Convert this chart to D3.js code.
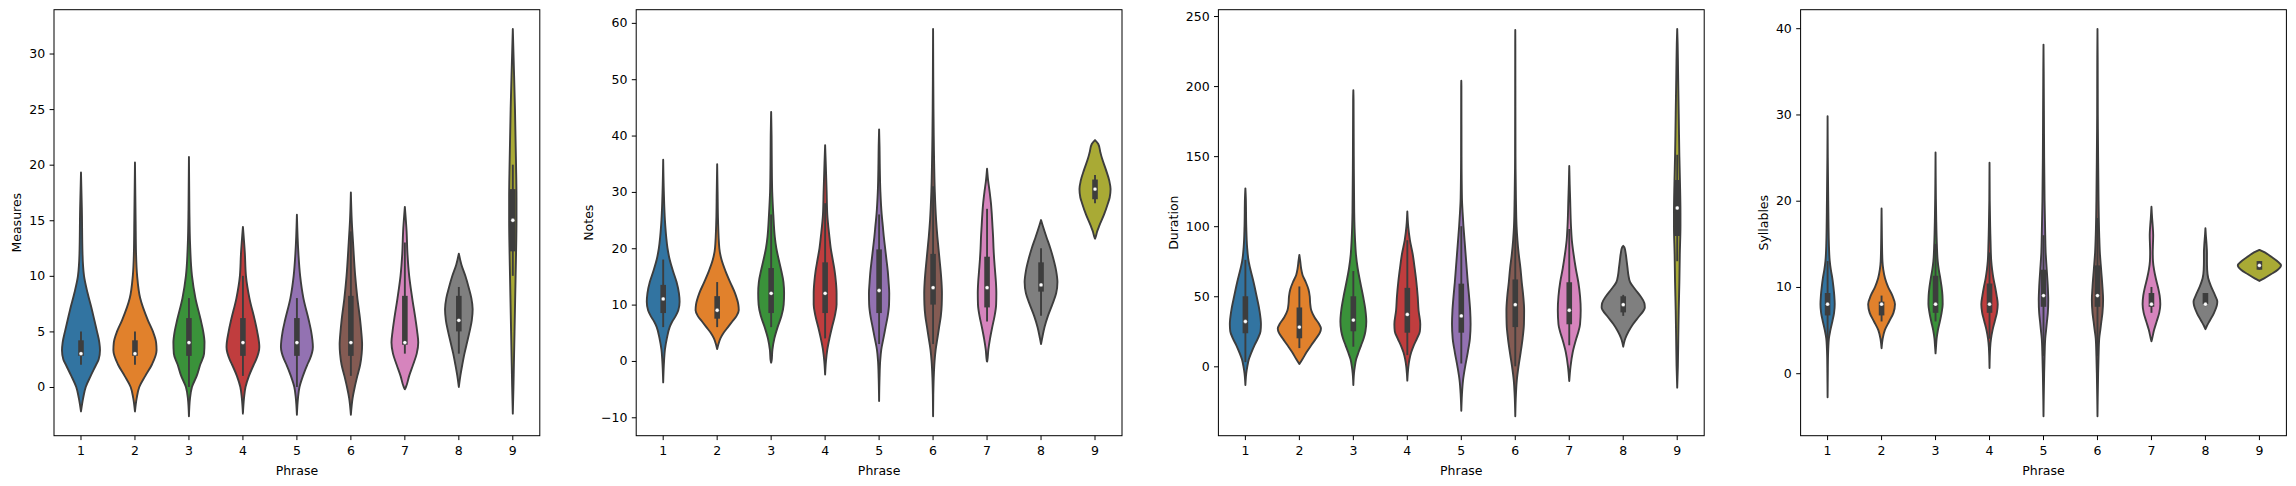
<!DOCTYPE html>
<html><head><meta charset="utf-8">
<script src="https://cdn.jsdelivr.net/npm/d3@7"></script>
<style>body{margin:0;background:#fff}svg{display:block}text{font-family:"DejaVu Sans";}</style>
</head><body>
<script>
const categories = ["1","2","3","4","5","6","7","8","9"];
const palette = ["#3274a1","#e1812c","#3a923a","#c03d3e","#9372b2","#845b53","#d684bd","#7f7f7f","#a9aa35"];
const yLabels = ["Measures","Notes","Duration","Syllables"];
const xLabel = "Phrase";
const measuresTicks = [0,5,10,15,20,25,30];
const notesTicks = [-10,0,10,20,30,40,50,60];
const durationTicks = [0,50,100,150,200,250];
const syllablesTicks = [0,10,20,30,40];

// violin profiles: [value, relative half-width (density)]
const measuresShape = [
 [[19.3,0],[16,0.04],[12,0.07],[10,0.14],[8.5,0.3],[7,0.5],[6,0.62],[5,0.74],[4,0.85],[3.3,0.88],[2.5,0.82],[2,0.7],[1,0.45],[0,0.22],[-1,0.1],[-2.2,0]],
 [[20.2,0],[15,0.03],[12,0.05],[10,0.1],[8,0.24],[6,0.6],[5,0.83],[4,0.98],[3.3,1.0],[2,0.78],[1,0.48],[0,0.2],[-1,0.08],[-2.2,0]],
 [[20.7,0],[16,0.02],[13,0.05],[10,0.14],[8,0.3],[6,0.55],[5,0.66],[4,0.72],[3,0.7],[2,0.52],[1,0.36],[0,0.14],[-1,0.05],[-2.64,0]],
 [[14.4,0],[12,0.09],[10,0.14],[8,0.3],[6,0.55],[5,0.66],[3.6,0.76],[2.5,0.62],[2,0.5],[1,0.28],[0,0.12],[-1,0.05],[-2.4,0]],
 [[15.5,0],[12,0.07],[10,0.15],[8,0.3],[6,0.55],[5,0.66],[3.6,0.74],[2.5,0.6],[2,0.48],[1,0.28],[0,0.12],[-1,0.05],[-2.5,0]],
 [[17.5,0],[15,0.04],[13,0.1],[10,0.2],[8,0.3],[6,0.43],[5,0.48],[3.8,0.52],[3,0.5],[2,0.43],[1,0.3],[0,0.18],[-1,0.08],[-2.5,0]],
 [[16.2,0],[14,0.08],[12,0.12],[10,0.2],[8,0.34],[6,0.5],[5,0.57],[4,0.62],[3,0.55],[2,0.38],[1,0.2],[0,0.05],[-0.2,0]],
 [[12,0],[11,0.12],[10,0.3],[9,0.45],[8,0.58],[7,0.64],[6,0.6],[5,0.5],[4,0.38],[3,0.26],[2,0.16],[1,0.07],[0,0]],
 [[32.2,0],[28,0.06],[25,0.1],[20,0.15],[17,0.17],[15,0.17],[12,0.15],[10,0.13],[5,0.08],[2,0.05],[0,0.03],[-2.4,0]]
];
const notesShape = [
 [[35.7,0],[30,0.03],[25,0.08],[22,0.14],[20,0.2],[18,0.3],[16,0.45],[14,0.62],[12,0.73],[10.5,0.76],[9,0.7],[8,0.58],[7,0.42],[6,0.3],[4,0.17],[2,0.08],[0,0.04],[-3.8,0]],
 [[34.9,0],[30,0.02],[25,0.04],[20,0.1],[18,0.2],[16,0.38],[14,0.6],[12,0.83],[10,0.98],[9,1.0],[8,0.9],[7,0.7],[6,0.5],[5,0.3],[4,0.15],[3,0.06],[2.1,0]],
 [[44.2,0],[40,0.02],[35,0.03],[30,0.05],[26,0.1],[22,0.17],[20,0.24],[18,0.35],[16,0.47],[14,0.57],[12,0.6],[10,0.58],[8,0.48],[6,0.3],[4,0.15],[2,0.06],[0,0.02],[-0.3,0]],
 [[38.3,0],[35,0.03],[30,0.07],[26,0.1],[22,0.2],[20,0.26],[18,0.35],[16,0.44],[14,0.5],[12,0.53],[10,0.53],[8,0.45],[6,0.32],[4,0.2],[2,0.1],[0,0.04],[-2.4,0]],
 [[41.1,0],[38,0.02],[35,0.03],[30,0.06],[26,0.12],[24,0.17],[22,0.22],[20,0.28],[18,0.34],[16,0.4],[14,0.44],[12,0.47],[10,0.46],[8,0.4],[6,0.3],[4,0.2],[2,0.1],[0,0.05],[-3,0.02],[-7.1,0]],
 [[58.9,0],[50,0.01],[40,0.03],[35,0.05],[30,0.08],[25,0.14],[22,0.2],[20,0.25],[18,0.3],[16,0.35],[14,0.39],[12,0.41],[10,0.4],[8,0.36],[6,0.28],[4,0.2],[2,0.12],[0,0.07],[-3,0.03],[-6,0.01],[-9.83,0]],
 [[34.1,0],[32,0.05],[30,0.12],[28,0.18],[26,0.22],[24,0.25],[22,0.28],[20,0.3],[18,0.33],[16,0.37],[14,0.41],[12,0.43],[10,0.42],[8,0.35],[6,0.24],[4,0.14],[2,0.06],[0,0.01],[-0.1,0]],
 [[25,0],[24,0.08],[22,0.25],[20,0.43],[18,0.58],[16,0.7],[14,0.76],[12,0.7],[10,0.52],[8,0.32],[6,0.16],[4,0.05],[3,0]],
 [[39.2,0],[38.5,0.15],[37,0.25],[36,0.32],[34,0.5],[32,0.66],[30.5,0.72],[29,0.68],[28,0.6],[26,0.42],[24,0.2],[23,0.1],[22,0.03],[21.7,0]]
];
const durationShape = [
 [[127,0],[120,0.02],[100,0.04],[85,0.08],[75,0.15],[70,0.22],[60,0.38],[50,0.52],[40,0.65],[30,0.72],[25,0.7],[20,0.58],[15,0.42],[10,0.28],[5,0.16],[0,0.09],[-5,0.04],[-13.3,0]],
 [[79.5,0],[75,0.04],[70,0.08],[65,0.15],[60,0.3],[55,0.42],[50,0.48],[45,0.5],[40,0.55],[35,0.7],[30,0.92],[27,1.0],[24,0.95],[20,0.78],[15,0.55],[10,0.33],[5,0.14],[1.7,0]],
 [[197,0],[190,0.01],[150,0.02],[110,0.04],[90,0.08],[80,0.12],[70,0.2],[60,0.32],[50,0.45],[40,0.56],[32,0.6],[25,0.56],[20,0.48],[15,0.36],[10,0.24],[5,0.13],[0,0.07],[-5,0.03],[-13.3,0]],
 [[110.5,0],[100,0.04],[90,0.12],[80,0.25],[70,0.34],[60,0.42],[50,0.48],[40,0.52],[30,0.6],[25,0.58],[20,0.45],[15,0.3],[10,0.18],[5,0.1],[0,0.05],[-5,0.02],[-10.2,0]],
 [[203.8,0],[200,0.005],[150,0.01],[120,0.03],[110,0.06],[100,0.1],[90,0.15],[80,0.2],[70,0.25],[60,0.3],[50,0.36],[40,0.41],[30,0.43],[20,0.4],[10,0.3],[0,0.18],[-10,0.08],[-20,0.03],[-31.7,0]],
 [[240,0],[230,0.003],[200,0.005],[150,0.01],[120,0.03],[100,0.06],[90,0.1],[80,0.16],[70,0.24],[60,0.3],[50,0.37],[40,0.41],[30,0.4],[20,0.34],[10,0.25],[0,0.15],[-10,0.07],[-20,0.03],[-35.7,0]],
 [[143,0],[140,0.005],[130,0.02],[120,0.04],[100,0.08],[90,0.12],[80,0.2],[70,0.3],[60,0.42],[50,0.5],[40,0.53],[30,0.5],[25,0.43],[20,0.33],[10,0.16],[0,0.06],[-10.5,0]],
 [[86,0],[85,0.05],[80,0.12],[75,0.16],[70,0.2],[65,0.24],[60,0.32],[55,0.55],[50,0.8],[45,0.98],[42,1.0],[40,0.95],[35,0.7],[30,0.45],[25,0.25],[20,0.1],[17,0.04],[14,0]],
 [[240.7,0],[230,0.02],[210,0.04],[180,0.07],[150,0.1],[130,0.13],[110,0.15],[100,0.15],[80,0.12],[60,0.1],[40,0.07],[20,0.05],[0,0.03],[-15.2,0]]
];
const syllablesShape = [
 [[29.8,0],[25,0.01],[20,0.03],[15,0.06],[13,0.1],[12,0.15],[11,0.22],[10,0.27],[9,0.31],[8,0.33],[7,0.3],[6,0.22],[5,0.13],[4,0.06],[2,0.02],[0,0.01],[-2.8,0]],
 [[19.1,0],[17,0.01],[15,0.02],[13,0.04],[12,0.08],[11,0.16],[10,0.3],[9,0.5],[8,0.62],[7,0.55],[6,0.35],[5,0.15],[4,0.05],[2.9,0]],
 [[25.6,0],[22,0.01],[18,0.03],[15,0.06],[13,0.1],[12,0.15],[11,0.22],[10,0.28],[9,0.32],[8,0.33],[7,0.28],[6,0.2],[5,0.11],[4,0.05],[3,0.02],[2.3,0]],
 [[24.4,0],[20,0.01],[17,0.03],[15,0.05],[13,0.08],[12,0.12],[11,0.18],[10,0.26],[9,0.33],[8,0.38],[7,0.34],[6,0.24],[5,0.14],[4,0.07],[3,0.03],[0.6,0]],
 [[38.1,0],[35,0.01],[30,0.02],[25,0.03],[20,0.05],[16,0.08],[14,0.1],[12,0.15],[10,0.2],[8.5,0.22],[7,0.2],[6,0.16],[5,0.12],[4,0.08],[2,0.05],[0,0.03],[-3,0.01],[-5,0]],
 [[39.9,0],[36,0.01],[30,0.015],[25,0.03],[20,0.05],[16,0.08],[14,0.11],[12,0.17],[10,0.23],[8.5,0.26],[7,0.23],[6,0.18],[5,0.13],[4,0.08],[2,0.05],[0,0.03],[-3,0.01],[-5,0]],
 [[19.3,0],[18,0.03],[17,0.06],[16,0.08],[15,0.07],[14,0.06],[13,0.07],[12,0.12],[11,0.2],[10,0.3],[9,0.38],[8,0.41],[7,0.36],[6,0.24],[5,0.12],[4,0.03],[3.7,0]],
 [[16.8,0],[16,0.02],[15,0.05],[14,0.07],[13,0.07],[12,0.08],[11,0.13],[10,0.27],[9,0.45],[8.3,0.55],[8,0.54],[7,0.4],[6,0.18],[5.5,0.07],[5.1,0]],
 [[14.3,0],[14,0.25],[13.5,0.55],[13,0.82],[12.5,1.0],[12,0.85],[11.5,0.55],[11,0.22],[10.7,0]]
];
// inner box: [whisker low, q1, median, q3, whisker high]
const measuresBox = [[2,2.8,3,4.2,5],[2,2.8,3,4.2,5],[0,2.8,4,6.2,8],[1,2.8,4,6.2,10],[0,2.8,4,6.2,8],[1,2.8,4,8.2,14],[3,3.8,4,8.2,13],[3,5,6,8.2,9],[10,12.2,15,17.8,20]];
const notesBox = [[6,8.5,11,13.5,18],[6,7.5,9,11.5,14],[6,8.5,12,16.5,26],[4,8.5,12,17.5,28],[3,8.5,12.5,19.8,26],[3,10,13,19,31],[7,9.5,13,18.5,27],[8,12.3,13.5,17.5,20],[28,28.7,30.5,32.2,33]];
const durationBox = [[3,23.6,32,50,76],[13,20,28,42,57],[14,25,33,50,68],[8,24,37,56,90],[2,24,36,59,100],[0,28,44,62,110],[15,30,40,60,98],[36,38.5,44,50,51],[75,93,113,133,151]];
const syllablesBox = [[3,6.7,8,9.3,13],[6,6.7,8,8.3,9],[6,7,8,11.3,15],[4,7,8,10.4,14],[2,7.7,9,12,16],[2,7.7,9,12.5,18],[7,7.7,8,9.3,10],[8,8,8,9.3,9.3],[12,12,12.5,13,13]];

(function(){
const panels = [
 {label:yLabels[0], shapes:measuresShape, boxes:measuresBox, ticks:measuresTicks},
 {label:yLabels[1], shapes:notesShape, boxes:notesBox, ticks:notesTicks},
 {label:yLabels[2], shapes:durationShape, boxes:durationBox, ticks:durationTicks},
 {label:yLabels[3], shapes:syllablesShape, boxes:syllablesBox, ticks:syllablesTicks}
];

const W = 2296, H = 486;
const left0 = 54, pitch = 582.2, pw = 485.8, plotTop = 9.7, plotBottom = 435.7;
const gray = "#3d3d3d";
const FS = 12.5;
const tickLen = 4.4, tickPad = 4.4;

const svg = d3.select("body").append("svg").attr("width", W).attr("height", H);

panels.forEach((p, pi) => {
  const L = left0 + pi * pitch, R = L + pw;
  const allV = p.shapes.flat().map(d => d[0]);
  const lo = d3.min(allV), hi = d3.max(allV), pad = (hi - lo) * 0.05;
  const y = d3.scaleLinear().domain([lo - pad, hi + pad]).range([plotBottom, plotTop]);
  const x = d3.scaleBand().domain(categories).range([L, R]).padding(0);
  const bw = x.bandwidth();
  const maxHW = bw * 0.4;
  const g = svg.append("g");

  categories.forEach((c, i) => {
    const cx = x(c) + bw / 2;
    const pts = p.shapes[i].slice().sort((a, b) => b[0] - a[0]);
    const area = d3.area()
      .y(d => y(d[0]))
      .x0(d => cx - d[1] * maxHW)
      .x1(d => cx + d[1] * maxHW)
      .curve(d3.curveMonotoneY);
    g.append("path").attr("d", area(pts))
      .attr("fill", palette[i]).attr("stroke", gray).attr("stroke-width", 1.9)
      .attr("stroke-linejoin", "round");
    const b = p.boxes[i];
    g.append("line").attr("x1", cx).attr("x2", cx).attr("y1", y(b[0])).attr("y2", y(b[4]))
      .attr("stroke", gray).attr("stroke-width", 1.9);
    g.append("line").attr("x1", cx).attr("x2", cx).attr("y1", y(b[1])).attr("y2", y(b[3]))
      .attr("stroke", gray).attr("stroke-width", 5.6);
    g.append("circle").attr("cx", cx).attr("cy", y(b[2])).attr("r", 1.9)
      .attr("fill", "#fff").attr("stroke", gray).attr("stroke-width", 0.3);
  });

  svg.append("rect").attr("x", L).attr("y", plotTop).attr("width", pw).attr("height", plotBottom - plotTop)
    .attr("fill", "none").attr("stroke", "#000").attr("stroke-width", 1);

  const ya = svg.append("g").attr("transform", `translate(${L},0)`)
    .call(d3.axisLeft(y).tickValues(p.ticks).tickSize(tickLen).tickPadding(tickPad).tickSizeOuter(0));
  ya.select(".domain").remove();
  ya.selectAll("text").attr("font-size", FS).attr("font-family", "DejaVu Sans").attr("fill", "#000");
  ya.selectAll("line").attr("stroke", "#000");

  const xa = svg.append("g").attr("transform", `translate(0,${plotBottom})`)
    .call(d3.axisBottom(x).tickSize(tickLen).tickPadding(tickPad).tickSizeOuter(0));
  xa.select(".domain").remove();
  xa.selectAll("text").attr("font-size", FS).attr("font-family", "DejaVu Sans").attr("fill", "#000")
    .attr("dy", null).attr("y", 455.5 - plotBottom);
  xa.selectAll("line").attr("stroke", "#000");

  let maxW = 0;
  ya.selectAll("text").each(function(){ maxW = Math.max(maxW, this.getComputedTextLength()); });

  svg.append("text").attr("x", (L + R) / 2).attr("y", 474.5).attr("text-anchor", "middle")
    .attr("font-size", FS).attr("fill", "#000").text(xLabel);
  const lx = L - tickLen - tickPad - maxW - 5 - 3;
  svg.append("text").attr("transform", `translate(${lx},${(plotTop + plotBottom) / 2}) rotate(-90)`)
    .attr("text-anchor", "middle").attr("font-size", FS).attr("fill", "#000").text(p.label);
});
})();
</script>
</body></html>
